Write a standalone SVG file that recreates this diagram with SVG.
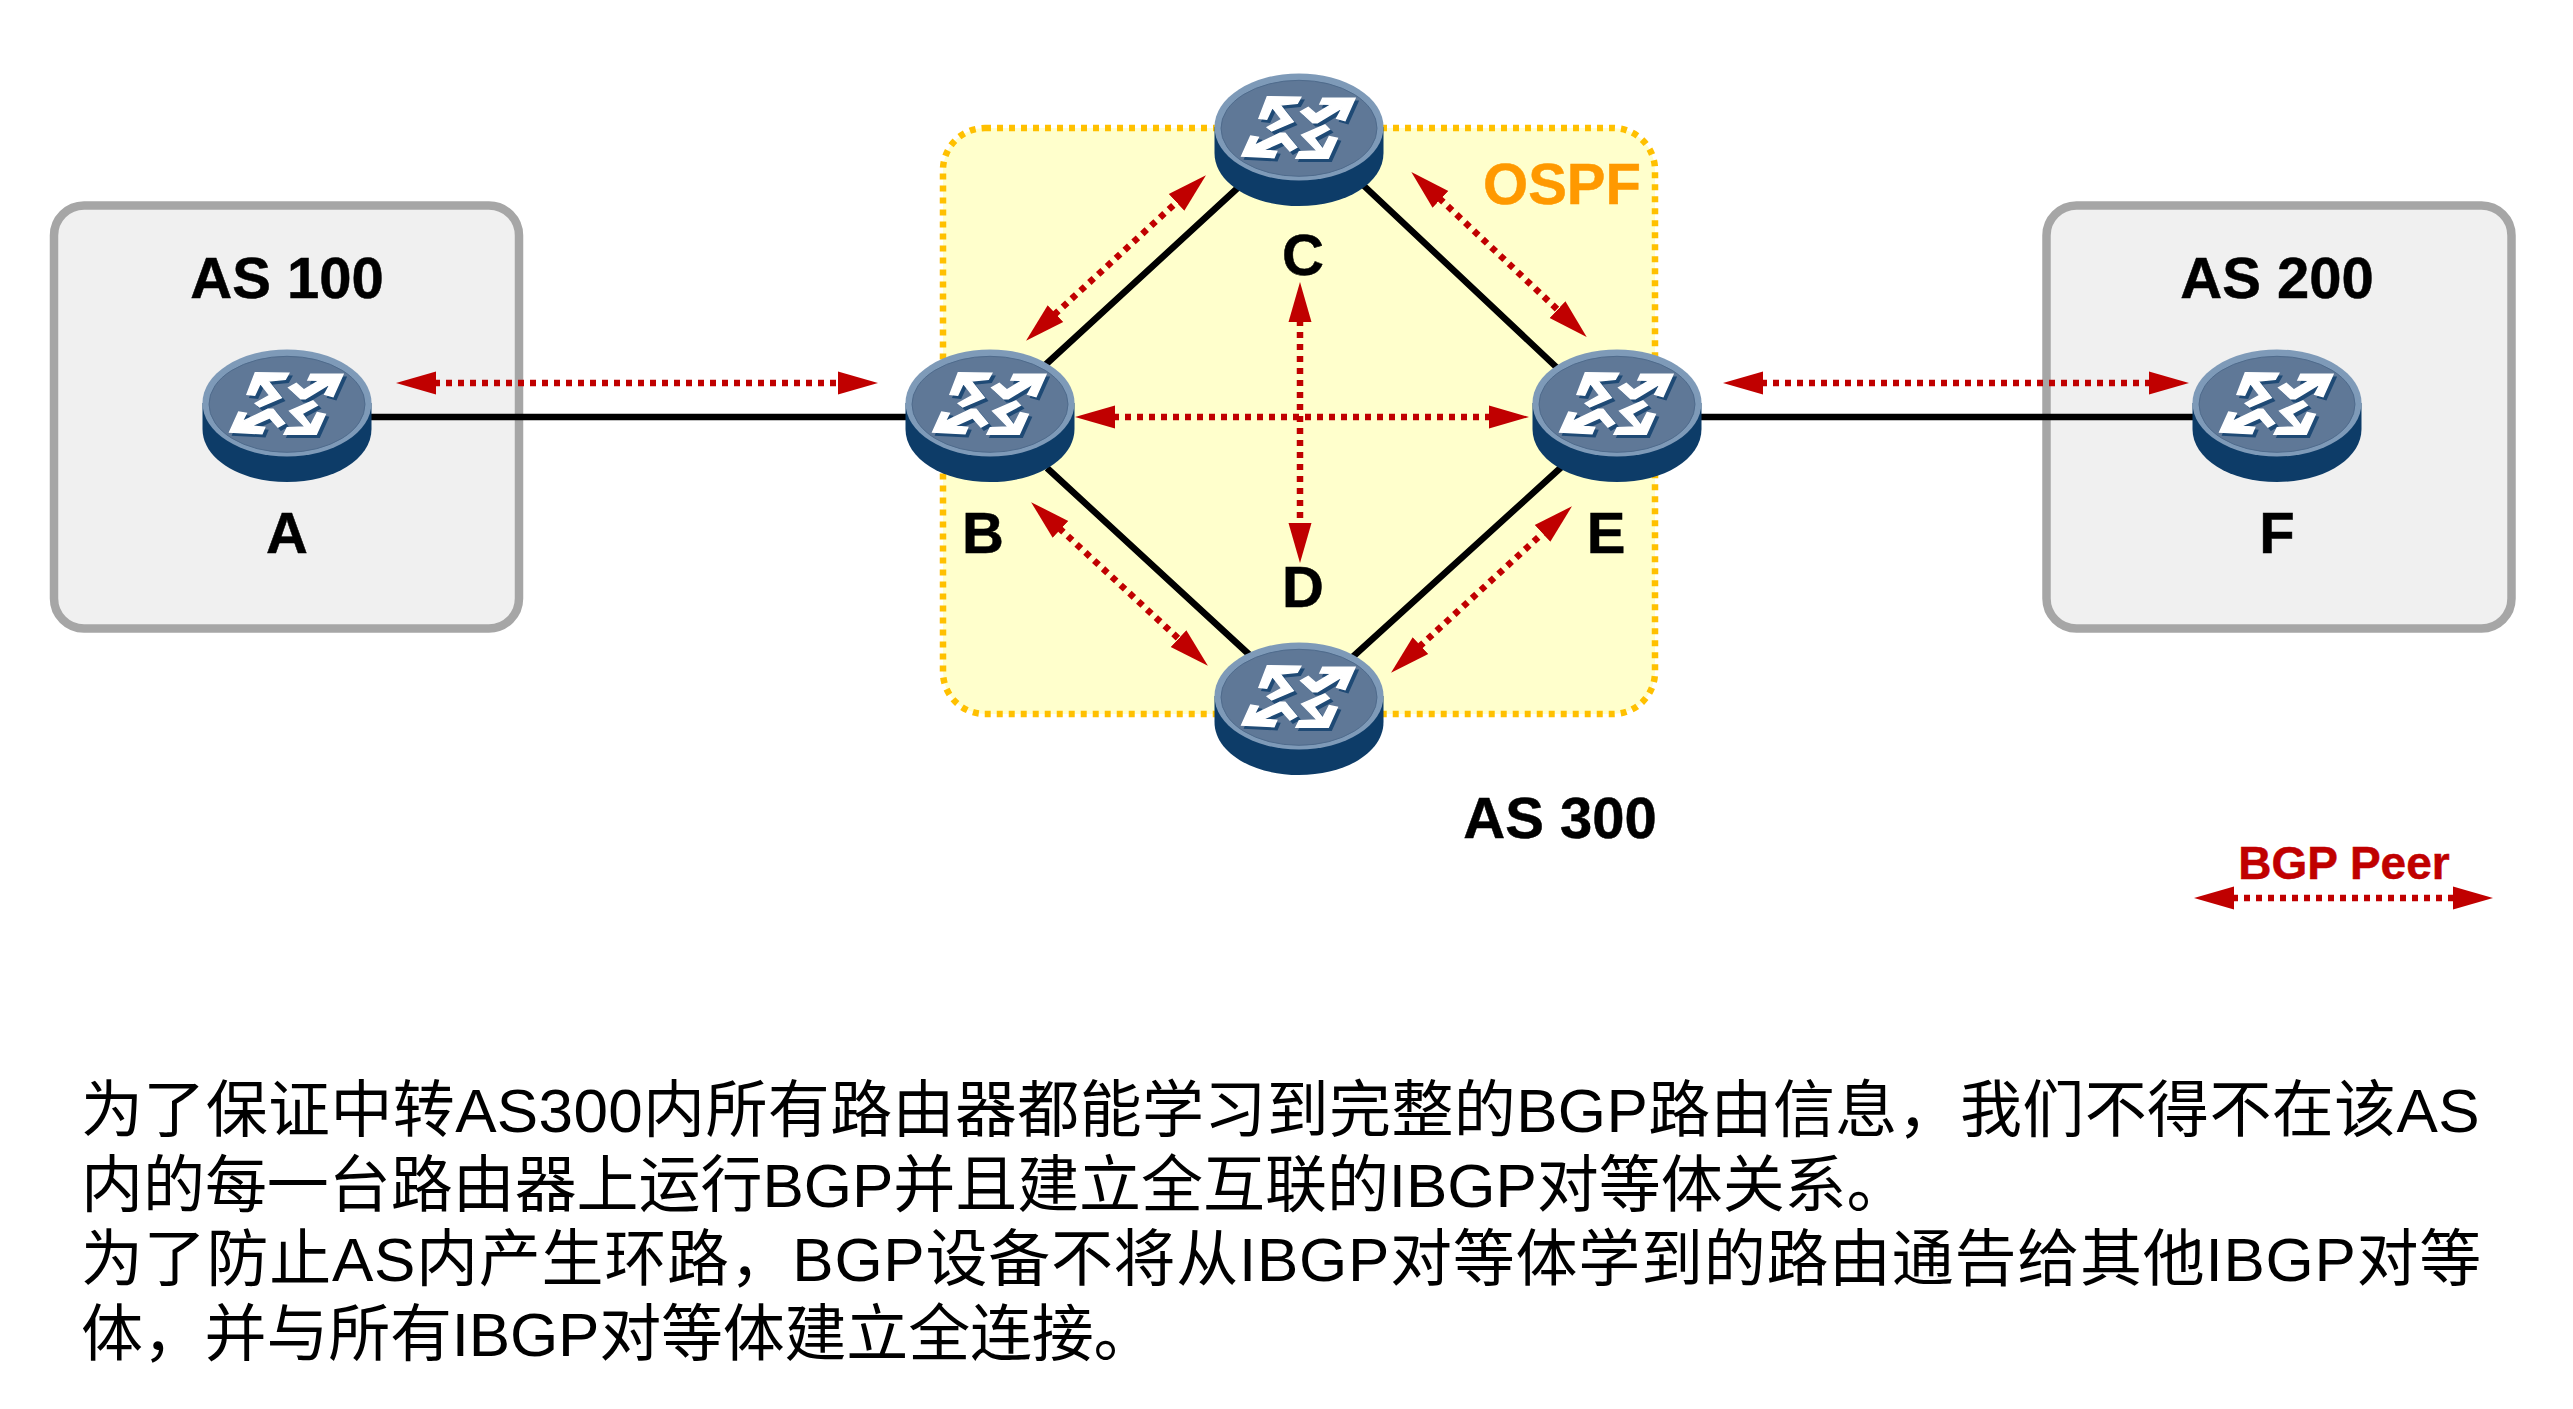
<svg xmlns="http://www.w3.org/2000/svg" width="2573" height="1409" viewBox="0 0 2573 1409">
<style>
.as{fill:#f0f0f0;stroke:#a6a6a6;stroke-width:8.5}
.lab{font-family:"Liberation Sans",Arial,sans-serif;font-weight:700;fill:#000;font-size:58px;stroke:#000;stroke-width:0.5px}
.link{stroke:#000;stroke-width:6.500;fill:none}
.peer{stroke:#c00000;stroke-width:6.500;stroke-dasharray:6 6;fill:none;marker-start:url(#ah);marker-end:url(#ah)}
.body{font-family:"Liberation Sans","Noto Sans CJK SC",sans-serif;font-size:62px;fill:#000}
</style>
<defs>
<marker id="ah" viewBox="0 0 40 24" refX="2" refY="12" markerWidth="40" markerHeight="24" markerUnits="userSpaceOnUse" orient="auto-start-reverse"><path d="M0 0.500L40 12L0 23.500Z" fill="#c00000"/></marker>
<path id="icon" d="M-31.700 -30.300L1.700 -29.700L-1.700 -23.700L-19 -22L-5.700 -5.300L-27.300 4L-31.700 0.300L-17.300 -7.700L-26.700 -19.700L-32.300 -7.700L-40 -8.700ZM56 -28.700L46 -6.300L37.700 -8.700L43.700 -19.700L18.300 -4.300L13.700 -4.300L1.700 -15.300L9.300 -19.700L17 -13L32.700 -22.700L21 -23L23.700 -28.700ZM-57.300 29L-48.300 9L-40.700 10.300L-45 18.700L-19 6.300L-14 6.300L-2.300 20.300L-9 24L-17.300 14.700L-35.700 23L-22.300 24.300L-25 30.700ZM26 -2L30.300 2.300L15 10.700L23.700 22.300L30.300 9.700L38.300 11.300L29.300 31.300L-3 31.300L0.300 24.700L18.300 24L2.700 8Z"/>
<g id="router">
<path d="M-84.500 0V26C-84.500 56 -47 79 0 79S84.500 56 84.500 26V0Z" fill="#0d3c68"/>
<ellipse rx="84.500" ry="53.500" fill="#7e9ab8"/>
<ellipse cy="1.300" rx="78" ry="48" fill="#5f7897" stroke="#4f6b8c" stroke-width="1"/>
<use href="#icon" transform="translate(3 3)" fill="#1f4a75" stroke="#1f4a75" stroke-width="1.500"/>
<use href="#icon" fill="#fff" stroke="#fff" stroke-width="1.500"/>
</g>
</defs>
<rect width="2573" height="1409" fill="#fff"/>
<rect id="as100" class="as" x="54" y="205.500" width="465" height="423" rx="30"/>
<rect id="as200" class="as" x="2046.500" y="205.500" width="465" height="423" rx="30"/>
<rect id="ospf" x="943" y="128" width="712" height="586" rx="42" fill="#ffffcc" stroke="#ffc000" stroke-width="6.500" stroke-dasharray="6 6"/>
<g id="connectors">
<path class="link" d="M340 417H930M1650 417H2230M1030 379L1255 172M1345 168L1570 380M1047 468L1267 671M1335 673L1567 462"/>
<path class="peer" d="M434 383H840"/>
<path class="peer" d="M1113 417H1491"/>
<path class="peer" d="M1300 320V525"/>
<path class="peer" d="M1054 315L1178 201"/>
<path class="peer" d="M1439 198L1559 311"/>
<path class="peer" d="M1059 528L1180 640"/>
<path class="peer" d="M1419 647L1544 532"/>
<path class="peer" d="M1761 383H2151"/>
<path class="peer" d="M2232 898H2455"/>
</g>
<g id="router-a"><use href="#router" x="287" y="403"/><text class="lab" x="287" y="553" text-anchor="middle">A</text></g>
<g id="router-b"><use href="#router" x="990" y="403"/><text class="lab" x="983" y="553" text-anchor="middle">B</text></g>
<g id="router-c"><use href="#router" x="1299" y="127"/><text class="lab" x="1303" y="275" text-anchor="middle">C</text></g>
<g id="router-d"><use href="#router" x="1299" y="696"/><text class="lab" x="1303" y="607" text-anchor="middle">D</text></g>
<g id="router-e"><use href="#router" x="1617" y="403"/><text class="lab" x="1606" y="553" text-anchor="middle">E</text></g>
<g id="router-f"><use href="#router" x="2277" y="403"/><text class="lab" x="2277" y="553" text-anchor="middle">F</text></g>
<text class="lab" x="287" y="298" text-anchor="middle">AS 100</text>
<text class="lab" x="2277" y="298" text-anchor="middle">AS 200</text>
<text class="lab" x="1560" y="838" text-anchor="middle">AS 300</text>
<text class="lab" x="1562" y="204" text-anchor="middle" style="fill:#ff9900;stroke:#ff9900">OSPF</text>
<text class="lab" x="2344" y="879" text-anchor="middle" style="fill:#c00000;stroke:#c00000;font-size:46px">BGP Peer</text>
<text class="body" x="81" y="1132" style="letter-spacing:0.36px">为了保证中转AS300内所有路由器都能学习到完整的BGP路由信息，我们不得不在该AS</text>
<text class="body" x="81" y="1207" style="letter-spacing:-0.05px">内的每一台路由器上运行BGP并且建立全互联的IBGP对等体关系。</text>
<text class="body" x="81" y="1281" style="letter-spacing:0.72px">为了防止AS内产生环路，BGP设备不将从IBGP对等体学到的路由通告给其他IBGP对等</text>
<text class="body" x="81" y="1356" style="letter-spacing:-0.2px">体，并与所有IBGP对等体建立全连接。</text>
</svg>
